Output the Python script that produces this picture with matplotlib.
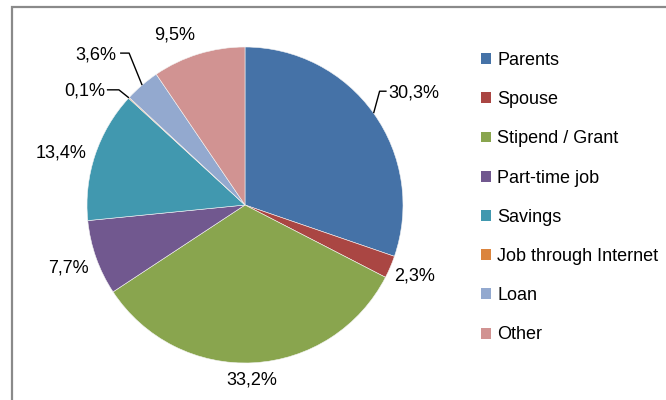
import numpy as np
import matplotlib.pyplot as plt
from matplotlib.patches import Patch, Rectangle

plt.rcParams['font.family'] = ['Liberation Sans', 'DejaVu Sans']

categories = ['Parents', 'Spouse', 'Stipend / Grant', 'Part-time job',
              'Savings', 'Job through Internet', 'Loan', 'Other']
shares = [30.3, 2.3, 33.2, 7.7, 13.4, 0.1, 3.6, 9.5]
label_text = ['30,3%', '2,3%', '33,2%', '7,7%', '13,4%', '0,1%', '3,6%', '9,5%']
colors = ['#4572A7', '#AA4643', '#89A54E', '#71588F',
          '#4198AF', '#DB843D', '#93A9CF', '#D19392']

W, H = 666, 400
R = 158.0  # pie radius in px
FS = 13

# label placement: offset in px from wedge edge (x right, y down), alignment,
# and optional leader knee offset (px from edge) + leader end offset
label_style = [
    dict(off=(15, -20), ha='left', knee=(6, -22), end=(13, -22)),
    dict(off=(4, 9), ha='left'),
    dict(off=(-2, 17), ha='center'),
    dict(off=(-7, 10), ha='right'),
    dict(off=(-9, -2), ha='right'),
    dict(off=(-24, -7), ha='right', knee=(-10, -8), end=(-22, -8)),
    dict(off=(-26, -30), ha='right', knee=(-13, -32), end=(-22, -32)),
    dict(off=(-24, -19), ha='center'),
]


def main():
    fig = plt.figure(figsize=(W / 100, H / 100), dpi=100)
    cx, cy = 245, 205
    ax = fig.add_axes([(cx - R) / W, (H - cy - R) / H, 2 * R / W, 2 * R / H])
    ax.set_aspect('equal')
    ax.axis('off')

    wedges, _ = ax.pie(shares, colors=colors, startangle=90, counterclock=False,
                       radius=1, center=(0, 0), frame=False,
                       wedgeprops=dict(edgecolor='#f4f4f4', linewidth=0.4))
    ax.set_xlim(-1, 1)
    ax.set_ylim(-1, 1)

    px = 1.0 / R
    for w, txt, st in zip(wedges, label_text, label_style):
        mid = np.deg2rad((w.theta1 + w.theta2) / 2)
        ex, ey = np.cos(mid), np.sin(mid)
        ox, oy = st['off']
        ax.text(ex + ox * px, ey - oy * px, txt, ha=st['ha'], va='center',
                fontsize=FS, color='black', clip_on=False)
        if 'knee' in st:
            kx, ky = st['knee']
            lx, ly = st['end']
            ax.plot([ex, ex + kx * px, ex + lx * px],
                    [ey, ey - ky * px, ey - ly * px],
                    color='black', lw=1.0, clip_on=False, solid_capstyle='butt')

    handles = [Patch(facecolor=c, edgecolor='none') for c in colors]
    fig.legend(handles, categories, loc='upper left',
               bbox_to_anchor=(481 / W, 1 - 52 / H), frameon=False,
               fontsize=FS, handlelength=0.55, handleheight=0.55,
               handletextpad=0.36, labelspacing=1.23, borderpad=0,
               borderaxespad=0)

    # chart frame, only top and left edges are visible in the crop
    fig.patches.append(Rectangle((12 / W, -0.1), 1.2, 1.1 - 7 / H,
                                 transform=fig.transFigure, fill=False,
                                 edgecolor='#8a8a8a', linewidth=1.6))

    fig.savefig('out.png', dpi=100)


main()
